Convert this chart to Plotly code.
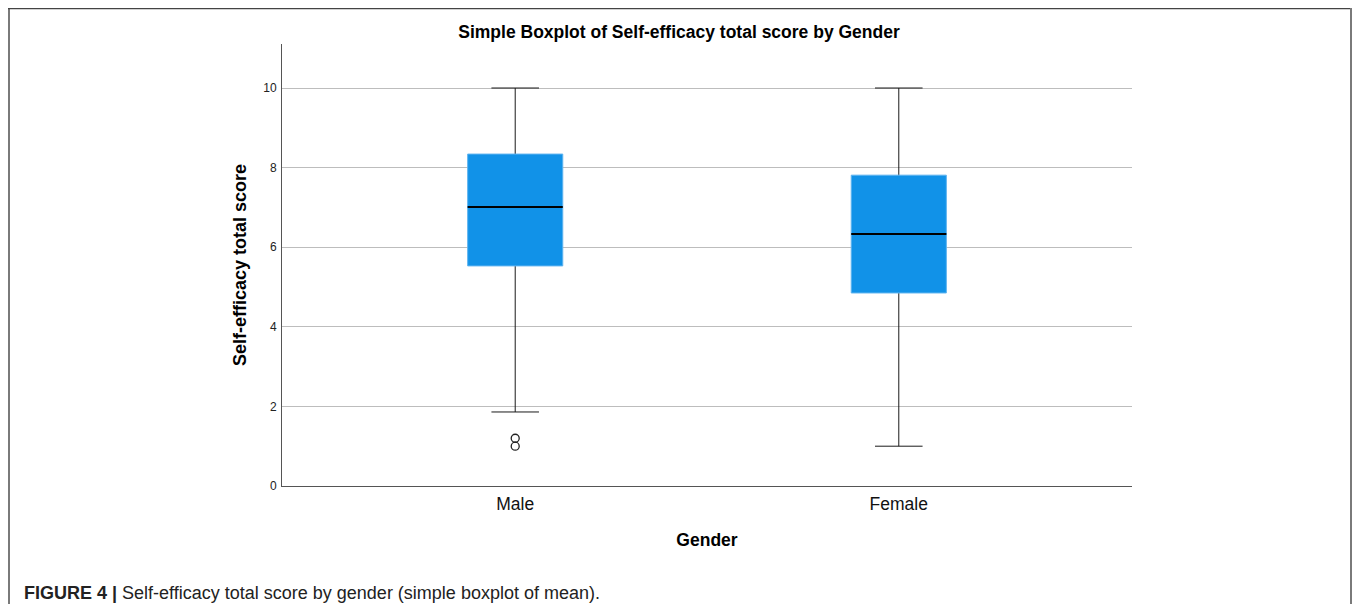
import plotly.graph_objects as go

# ---- data ----
categories = ["Male", "Female"]
q1 = [5.53, 4.85]
median = [7.01, 6.33]
q3 = [8.34, 7.81]
lower_whisker = [1.86, 1.0]
upper_whisker = [10.0, 10.0]
outlier_cat = ["Male", "Male"]
outlier_val = [1.0, 1.2]
y_ticks = [0, 2, 4, 6, 8, 10]

# ---- layout geometry (pixels, page coordinates; page body has an 8px margin) ----
OFF = 8
W, H = 1360 - 2 * OFF, 612 - 2 * OFF
L, R, T, B = 282 - OFF, 1132 - OFF, 44 - OFF, 486 - OFF
pw, ph = R - L, B - T

def px(x):
    return (x - OFF - L) / pw

def py(y):
    return (B - (y - OFF)) / ph

BLUE = "#1192e8"
EDGE = "#5fb4f0"
BOXW = 0.248
FONT = "Liberation Sans, Arial, sans-serif"

fig = go.Figure()

# whiskers (drawn underneath the box)
fig.add_trace(go.Box(
    x=categories, q1=median, median=median, q3=median,
    lowerfence=lower_whisker, upperfence=upper_whisker,
    width=BOXW, whiskerwidth=0.5, boxpoints=False,
    line=dict(color="#1a1a1a", width=1), fillcolor="rgba(0,0,0,0)",
    hoverinfo="skip", showlegend=False,
))
# box body
fig.add_trace(go.Box(
    x=categories, q1=q1, median=median, q3=q3,
    lowerfence=q1, upperfence=q3,
    width=BOXW, whiskerwidth=0, boxpoints=False,
    line=dict(color=EDGE, width=1), fillcolor=BLUE,
    showlegend=False,
))
# median line
fig.add_trace(go.Box(
    x=categories, q1=median, median=median, q3=median,
    lowerfence=median, upperfence=median,
    width=BOXW, whiskerwidth=0, boxpoints=False,
    line=dict(color="#000000", width=2), fillcolor="rgba(0,0,0,0)",
    hoverinfo="skip", showlegend=False,
))
# outliers
fig.add_trace(go.Scatter(
    x=outlier_cat, y=outlier_val, mode="markers",
    marker=dict(symbol="circle-open", size=8, color="#222222",
                line=dict(width=1.3, color="#222222")),
    showlegend=False,
))

frame = "#7a7a7a"
shapes = [
    dict(type="line", xref="paper", yref="paper", x0=px(9), x1=px(9), y0=py(7), y1=py(612),
         line=dict(color=frame, width=2)),
    dict(type="line", xref="paper", yref="paper", x0=px(8), x1=px(1351), y0=py(8.5), y1=py(8.5),
         line=dict(color="#444444", width=1.5)),
    dict(type="line", xref="paper", yref="paper", x0=px(1351), x1=px(1351), y0=py(7), y1=py(612),
         line=dict(color=frame, width=2)),
]

fig.update_layout(
    width=W, height=H,
    margin=dict(l=L, r=W - R, t=T, b=H - B, pad=0),
    paper_bgcolor="white", plot_bgcolor="white",
    boxmode="overlay",
    font=dict(family=FONT, color="#000000"),
    title=dict(text="<b>Simple Boxplot of Self-efficacy total score by Gender</b>",
               x=(679 - OFF) / W, xref="container", xanchor="center",
               y=1 - (32 - OFF) / H, yref="container", yanchor="middle",
               font=dict(size=17.5, family=FONT, color="#000000")),
    xaxis=dict(
        type="category", range=[-0.608, 1.608],
        showgrid=False, zeroline=False,
        showline=True, linecolor="#555555", linewidth=1,
        ticks="outside", ticklen=2, tickcolor="rgba(0,0,0,0)",
        tickfont=dict(size=17.5, family=FONT, color="#111111"),
        title=dict(text="<b>Gender</b>", font=dict(size=17.5, family=FONT), standoff=20),
    ),
    yaxis=dict(
        range=[0, (B - T) / 39.8], tickvals=y_ticks,
        showgrid=True, gridcolor="#bdbdbd", gridwidth=1,
        zeroline=False,
        showline=True, linecolor="#555555", linewidth=1,
        ticks="outside", ticklen=2, tickcolor="rgba(0,0,0,0)",
        tickfont=dict(size=12, family=FONT, color="#222222"),
        title=dict(text="<b>Self-efficacy total score</b>", font=dict(size=18, family=FONT), standoff=11),
    ),
    shapes=shapes,
    annotations=[
        dict(text="<b>FIGURE 4 |</b> Self-efficacy total score by gender (simple boxplot of mean).",
             xref="paper", yref="paper", x=px(22), y=py(593),
             xanchor="left", yanchor="middle", showarrow=False,
             font=dict(size=18, family=FONT, color="#222222")),
    ],
)

fig.write_html("out.html")
